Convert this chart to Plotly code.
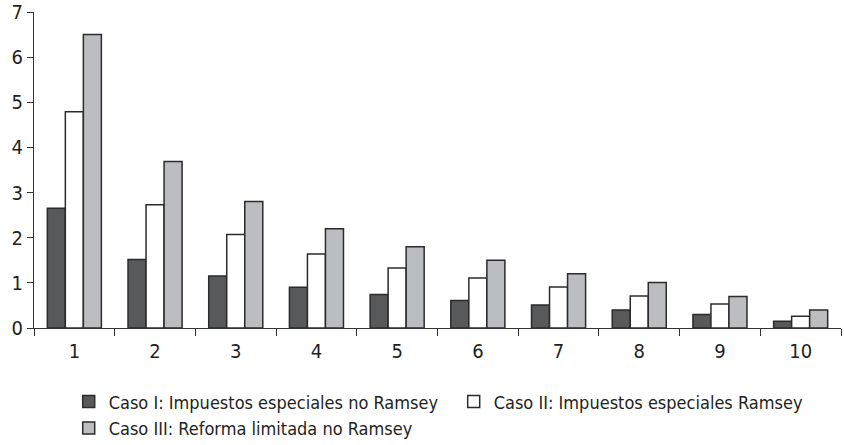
import plotly.graph_objects as go

categories = ["1", "2", "3", "4", "5", "6", "7", "8", "9", "10"]
caso_i = [2.65, 1.52, 1.15, 0.90, 0.74, 0.61, 0.51, 0.40, 0.30, 0.15]
caso_ii = [4.79, 2.73, 2.07, 1.64, 1.33, 1.11, 0.91, 0.71, 0.53, 0.26]
caso_iii = [6.50, 3.69, 2.80, 2.20, 1.80, 1.50, 1.20, 1.01, 0.70, 0.40]
names = [
    "Caso I: Impuestos especiales no Ramsey",
    "Caso II: Impuestos especiales Ramsey",
    "Caso III: Reforma limitada no Ramsey",
]
fills = ["#58595b", "#ffffff", "#bcbdc0"]

FONT = "DejaVu Sans Condensed, Liberation Sans Narrow, Arial Narrow, sans-serif"
TXT = "#231f20"

fig = go.Figure()
for name, vals, col in zip(names, [caso_i, caso_ii, caso_iii], fills):
    fig.add_trace(go.Bar(
        x=categories, y=vals, name=name,
        marker=dict(color=col, line=dict(color="#2b2b2b", width=1.5)),
    ))

fig.update_layout(
    width=844, height=445,
    margin=dict(l=34, r=3, t=12, b=117, autoexpand=False),
    paper_bgcolor="white", plot_bgcolor="white",
    barmode="group", bargap=0.33, bargroupgap=0,
    font=dict(family=FONT, size=18, color=TXT),
    showlegend=True,
    legend=dict(
        orientation="h", x=0.043, xanchor="left", y=-0.175, yanchor="top",
        entrywidth=340, entrywidthmode="pixels",
        font=dict(family=FONT, size=18, color=TXT),
        itemclick=False, tracegroupgap=0,
        traceorder="normal",
    ),
    xaxis=dict(
        type="category", showgrid=False, showline=True, linecolor="#333333", linewidth=1.2,
        ticks="outside", tickson="boundaries", ticklen=7, tickcolor="#333333", tickwidth=1.2,
        tickfont=dict(family=FONT, size=20, color=TXT), ticklabelstandoff=5,
        zeroline=False, automargin=False,
    ),
    yaxis=dict(
        range=[0, 7], tickvals=[0, 1, 2, 3, 4, 5, 6, 7], showgrid=False,
        showline=True, linecolor="#333333", linewidth=1.2,
        ticks="outside", ticklen=6, tickcolor="#333333", tickwidth=1.2,
        tickfont=dict(family=FONT, size=20, color=TXT),
        zeroline=False, automargin=False,
    ),
)

fig.write_html(
    "out.html",
    config={"displayModeBar": False},
    post_script="document.body.style.margin='0';document.body.style.overflow='hidden';",
)
